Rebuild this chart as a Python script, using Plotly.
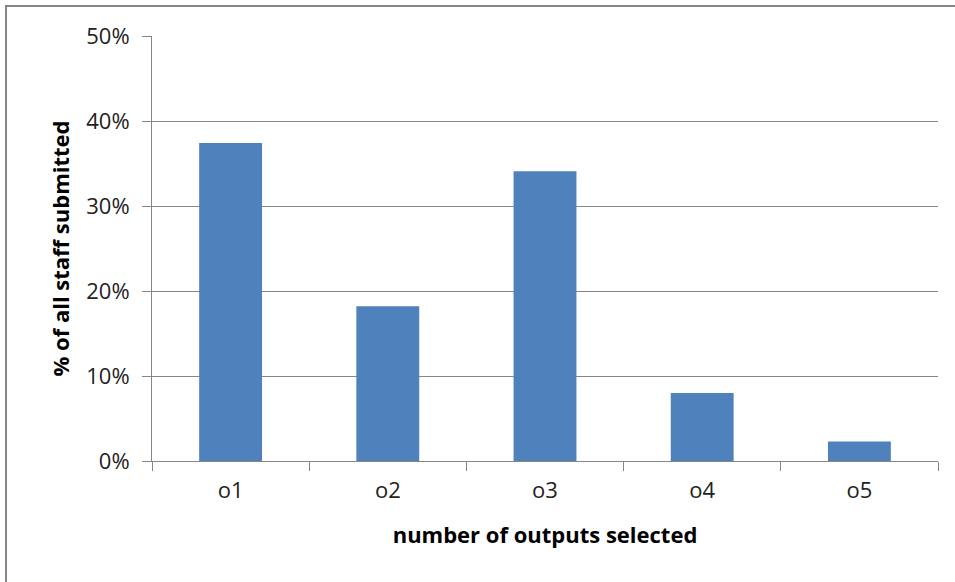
import plotly.graph_objects as go

categories = ["o1", "o2", "o3", "o4", "o5"]
values = [0.374, 0.182, 0.341, 0.080, 0.023]
y_ticks = [0, 0.1, 0.2, 0.3, 0.4, 0.5]
y_tick_labels = ["0%", "10%", "20%", "30%", "40%", "50%"]

font_family = "'Open Sans', Lato, sans-serif"

fig = go.Figure(
    go.Bar(
        x=categories,
        y=values,
        marker=dict(color="#4F81BD", line=dict(width=0)),
        width=0.4,
    )
)

W, H = 955, 582
L, R, T, B = 152, 17, 36, 121
pw, ph = W - L - R, H - T - B

def px_x(p):
    return (p - L) / pw

def px_y(p):
    return (H - B - p) / ph

fig.update_layout(
    width=W,
    height=H,
    margin=dict(l=L, r=R, t=T, b=B),
    paper_bgcolor="white",
    plot_bgcolor="white",
    showlegend=False,
    font=dict(family=font_family, color="#000000"),
    xaxis=dict(
        type="category",
        tickson="boundaries",
        ticks="outside",
        ticklen=9,
        tickcolor="#868686",
        showline=True,
        linecolor="#868686",
        linewidth=1,
        showgrid=False,
        ticklabelstandoff=10,
        tickfont=dict(size=22, family=font_family, color="#222222"),
        title=dict(text="<b>number of outputs selected</b>", font=dict(size=22, family=font_family), standoff=24),
    ),
    yaxis=dict(
        range=[0, 0.5],
        tickvals=y_ticks,
        ticktext=y_tick_labels,
        ticks="outside",
        ticklen=9,
        tickcolor="#868686",
        showline=True,
        linecolor="#868686",
        linewidth=1,
        showgrid=True,
        gridcolor="#868686",
        gridwidth=1,
        zeroline=False,
        ticklabelstandoff=8,
        tickfont=dict(size=22, family=font_family, color="#222222"),
        title=dict(text="<b>% of all staff submitted</b>", font=dict(size=22, family=font_family), standoff=10),
    ),
    shapes=[
        dict(
            type="rect",
            xref="paper",
            yref="paper",
            x0=px_x(6),
            x1=px_x(965),
            y0=px_y(595),
            y1=px_y(6),
            line=dict(color="#868686", width=2),
            layer="below",
        )
    ],
)

fig.write_html(
    "out.html",
    config={"displayModeBar": False},
    post_script="document.body.style.margin='0';",
)
